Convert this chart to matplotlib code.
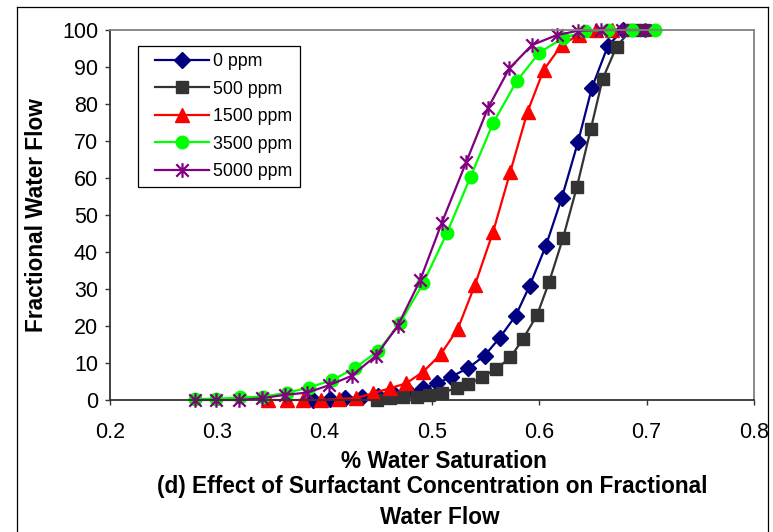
import matplotlib
matplotlib.use('Agg')
import matplotlib.pyplot as plt
from matplotlib.path import Path
from matplotlib.lines import Line2D
from matplotlib.legend_handler import HandlerLine2D

plt.rcParams['font.family'] = ['Liberation Sans', 'DejaVu Sans']

# ---- data ----
sw_0ppm = [0.389, 0.405, 0.419, 0.435, 0.450, 0.465, 0.478, 0.492, 0.505, 0.518, 0.534,
           0.549, 0.563, 0.578, 0.591, 0.606, 0.621, 0.636, 0.649, 0.664, 0.678]
fw_0ppm = [0.0, 0.3, 0.5, 0.8, 1.2, 1.7, 2.3, 3.2, 4.5, 6.3, 8.7,
           12.0, 16.8, 22.8, 30.9, 41.6, 54.7, 69.7, 84.4, 95.8, 100.0]

sw_500ppm = [0.449, 0.461, 0.473, 0.486, 0.497, 0.509, 0.523, 0.534, 0.547, 0.560, 0.573,
             0.585, 0.598, 0.609, 0.622, 0.635, 0.648, 0.659, 0.672, 0.685, 0.697]
fw_500ppm = [0.0, 0.5, 0.9, 0.9, 1.4, 2.0, 3.2, 4.2, 6.3, 8.4, 11.5,
             16.6, 23.0, 31.8, 43.7, 57.6, 73.3, 86.8, 95.5, 100.0, 100.0]

sw_1500ppm = [0.347, 0.365, 0.380, 0.397, 0.413, 0.429, 0.445, 0.461, 0.476, 0.492, 0.508,
              0.524, 0.540, 0.557, 0.573, 0.589, 0.604, 0.621, 0.637, 0.653, 0.668]
fw_1500ppm = [0.0, 0.0, 0.0, 0.0, 0.3, 0.5, 1.8, 3.2, 4.5, 7.7, 12.3,
              19.2, 31.1, 45.5, 61.7, 77.9, 89.2, 96.0, 98.7, 100.0, 100.0]

sw_3500ppm = [0.279, 0.299, 0.321, 0.343, 0.365, 0.385, 0.407, 0.428, 0.450, 0.470, 0.492,
              0.514, 0.536, 0.557, 0.579, 0.600, 0.622, 0.643, 0.664, 0.686, 0.708]
fw_3500ppm = [0.3, 0.3, 0.7, 0.9, 2.0, 3.3, 5.4, 8.6, 13.3, 20.7, 31.7,
              45.2, 60.4, 74.9, 86.2, 93.9, 97.8, 99.7, 100.0, 100.0, 100.0]

sw_5000ppm = [0.279, 0.299, 0.320, 0.342, 0.363, 0.384, 0.404, 0.425, 0.448, 0.468, 0.489,
              0.509, 0.532, 0.552, 0.572, 0.593, 0.616, 0.636, 0.657, 0.677, 0.698]
fw_5000ppm = [0.0, 0.0, 0.0, 0.5, 1.4, 2.0, 4.0, 6.5, 12.0, 20.0, 32.4,
              47.8, 64.4, 78.8, 89.6, 95.9, 98.6, 99.8, 100.0, 100.0, 100.0]

labels = ['0 ppm', '500 ppm', '1500 ppm', '3500 ppm', '5000 ppm']
x_ticks = [0.2, 0.3, 0.4, 0.5, 0.6, 0.7, 0.8]
y_ticks = [0, 10, 20, 30, 40, 50, 60, 70, 80, 90, 100]

# ---- figure ----
W, H = 773, 532
fig = plt.figure(figsize=(W / 100, H / 100), dpi=100)
ax = fig.add_axes([110 / W, 1 - 400 / H, 644 / W, 370 / H])

star = Path([(0, -1), (0, 1), (-0.85, -0.85), (0.85, 0.85), (-0.85, 0.85), (0.85, -0.85)],
            [Path.MOVETO, Path.LINETO, Path.MOVETO, Path.LINETO, Path.MOVETO, Path.LINETO])

series = [
    (sw_0ppm, fw_0ppm, '#000080', 'D', 8.5, {}),
    (sw_500ppm, fw_500ppm, '#333333', 's', 8.5, {}),
    (sw_1500ppm, fw_1500ppm, '#FF0000', '^', 10, {}),
    (sw_3500ppm, fw_3500ppm, '#00FF00', 'o', 9, {}),
    (sw_5000ppm, fw_5000ppm, '#800080', star, 10.5, {'markerfacecolor': 'none', 'markeredgewidth': 1.6}),
]
for (xs, ys, c, m, ms, extra), lab in zip(series, labels):
    kw = dict(color=c, lw=1.6, marker=m, markersize=ms, markerfacecolor=c,
              markeredgecolor=c, clip_on=False, label=lab)
    kw.update(extra)
    ax.plot(xs, ys, **kw)

ax.set_xlim(0.2, 0.8)
ax.set_ylim(0, 100)
ax.set_xticks(x_ticks)
ax.set_xticklabels([f'{v:.1f}' for v in x_ticks])
ax.set_yticks(y_ticks)
ax.set_yticklabels([str(v) for v in y_ticks])

for s in ['left', 'bottom']:
    ax.spines[s].set_color('#333333')
    ax.spines[s].set_linewidth(1.3)
for s in ['top', 'right']:
    ax.spines[s].set_color('#808080')
    ax.spines[s].set_linewidth(1.3)

ax.tick_params(axis='both', direction='out', length=3.6, width=1.0, color='#333333',
               labelsize=15.5, labelcolor='black')
ax.tick_params(axis='x', pad=12.5)
ax.tick_params(axis='y', pad=5)

leg = ax.legend(loc='upper left', bbox_to_anchor=((137.7 - 110) / 644, (400 - 46) / 370),
                borderaxespad=0, frameon=True, fancybox=False, framealpha=1,
                edgecolor='black', prop={'size': 12.8}, handlelength=3.6,
                handletextpad=0.25, labelspacing=0.59, borderpad=0.4,
                handler_map={Line2D: HandlerLine2D(xpad=0.6)})
leg.get_frame().set_linewidth(0.9)

bold = dict(fontsize=16.3, fontweight='bold', ha='center', va='center')
fig.text(444 / W, 1 - 461 / H, '% Water Saturation', **bold)
fig.text(432 / W, 1 - 487 / H, '(d) Effect of Surfactant Concentration on Fractional', **bold)
fig.text(440 / W, 1 - 517 / H, 'Water Flow', **bold)
fig.text(37 / W, 1 - 215 / H, 'Fractional Water Flow', rotation=90, **bold)

# outer chart frame (cut off at the bottom like the reference)
frame_kw = dict(color='black', lw=0.9, transform=fig.transFigure)
fig.add_artist(Line2D([17 / W, 17 / W], [0, 1 - 7 / H], **frame_kw))
fig.add_artist(Line2D([17 / W, 768 / W], [1 - 7 / H, 1 - 7 / H], **frame_kw))
fig.add_artist(Line2D([768 / W, 768 / W], [0, 1 - 7 / H], **frame_kw))

fig.savefig('out.png', dpi=100)
